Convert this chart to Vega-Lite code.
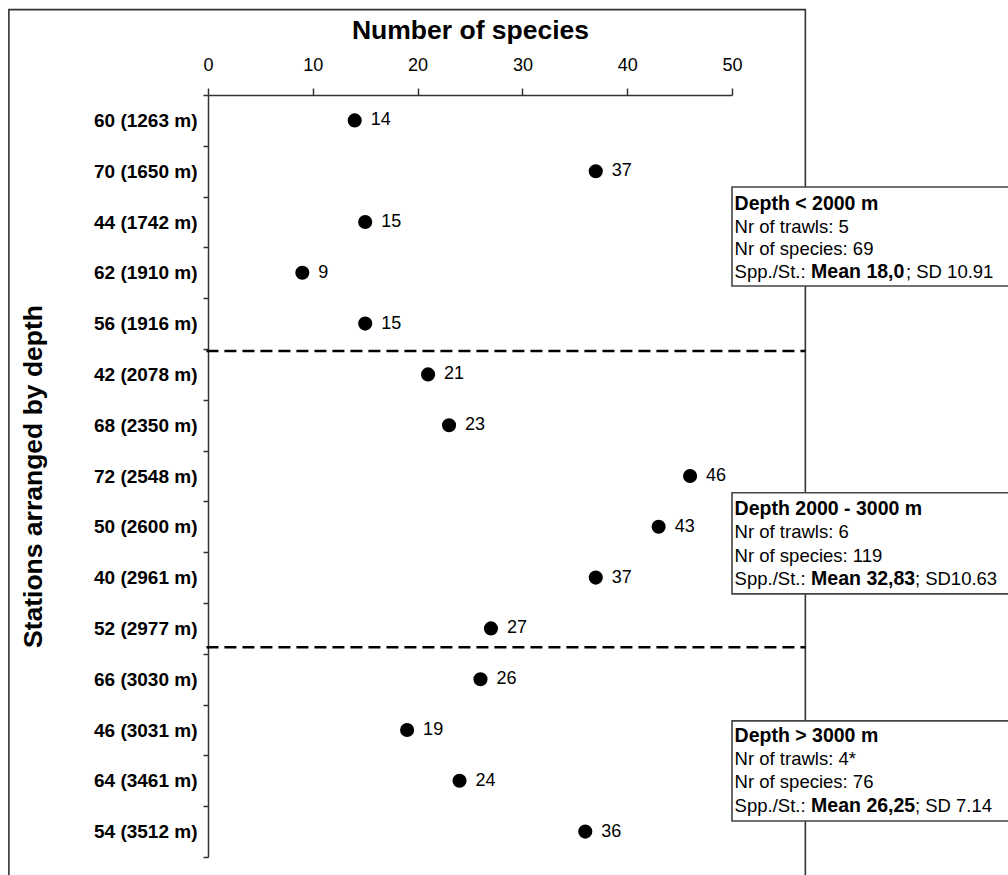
{
  "$schema": "https://vega.github.io/schema/vega-lite/v6.json",
  "autosize": "none",
  "width": 524,
  "height": 762,
  "padding": {"left": 208, "top": 95, "right": 276, "bottom": 18},
  "background": "white",
  "config": {
    "view": {"stroke": null},
    "font": "Liberation Sans",
    "text": {"font": "Liberation Sans", "color": "black"}
  },
  "datasets": {
    "stations": [
      {"station": "60 (1263 m)", "species": 14},
      {"station": "70 (1650 m)", "species": 37},
      {"station": "44 (1742 m)", "species": 15},
      {"station": "62 (1910 m)", "species": 9},
      {"station": "56 (1916 m)", "species": 15},
      {"station": "42 (2078 m)", "species": 21},
      {"station": "68 (2350 m)", "species": 23},
      {"station": "72 (2548 m)", "species": 46},
      {"station": "50 (2600 m)", "species": 43},
      {"station": "40 (2961 m)", "species": 37},
      {"station": "52 (2977 m)", "species": 27},
      {"station": "66 (3030 m)", "species": 26},
      {"station": "46 (3031 m)", "species": 19},
      {"station": "64 (3461 m)", "species": 24},
      {"station": "54 (3512 m)", "species": 36}
    ],
    "dividers": [
      {"row": 5.04},
      {"row": 10.87}
    ],
    "boxes": [
      {"top": 1.81, "bottom": 3.76},
      {"top": 7.83, "bottom": 9.82},
      {"top": 12.32, "bottom": 14.29}
    ],
    "boxtext": [
      {"text": "Depth < 2000 m", "x": 50.25, "row": 2.26, "bold": true},
      {"text": "Nr of trawls: 5", "x": 50.25, "row": 2.72, "bold": false},
      {"text": "Nr of species: 69", "x": 50.25, "row": 3.15, "bold": false},
      {"text": "Spp./St.:", "x": 50.25, "row": 3.6, "bold": false},
      {"text": "Mean 18,0", "x": 57.55, "row": 3.6, "bold": true},
      {"text": "; SD 10.91", "x": 66.6, "row": 3.6, "bold": false},
      {"text": "Depth 2000 - 3000 m", "x": 50.25, "row": 8.27, "bold": true},
      {"text": "Nr of trawls: 6", "x": 50.25, "row": 8.72, "bold": false},
      {"text": "Nr of species: 119", "x": 50.25, "row": 9.19, "bold": false},
      {"text": "Spp./St.:", "x": 50.25, "row": 9.65, "bold": false},
      {"text": "Mean 32,83", "x": 57.55, "row": 9.65, "bold": true},
      {"text": "; SD10.63", "x": 67.45, "row": 9.65, "bold": false},
      {"text": "Depth > 3000 m", "x": 50.25, "row": 12.74, "bold": true},
      {"text": "Nr of trawls: 4*", "x": 50.25, "row": 13.19, "bold": false},
      {"text": "Nr of species: 76", "x": 50.25, "row": 13.64, "bold": false},
      {"text": "Spp./St.:", "x": 50.25, "row": 14.11, "bold": false},
      {"text": "Mean 26,25", "x": 57.55, "row": 14.11, "bold": true},
      {"text": "; SD 7.14", "x": 67.45, "row": 14.11, "bold": false}
    ]
  },
  "layer": [
    {
      "data": {"name": "stations"},
      "encoding": {
        "x": {
          "field": "species",
          "type": "quantitative",
          "scale": {"domain": [0, 50], "nice": false, "zero": false},
          "axis": {
            "orient": "top",
            "title": "Number of species",
            "titleFontSize": 26.5,
            "titleFontWeight": "bold",
            "titleColor": "black",
            "titlePadding": 12,
            "values": [0, 10, 20, 30, 40, 50],
            "labelFontSize": 18,
            "labelColor": "black",
            "labelPadding": 14,
            "labelFlush": false,
            "tickSize": 7,
            "tickWidth": 1.5,
            "tickColor": "#333333",
            "domainColor": "#333333",
            "domainWidth": 1.5,
            "grid": false
          }
        },
        "y": {
          "field": "station",
          "type": "nominal",
          "sort": null,
          "scale": {"type": "band", "paddingInner": 0, "paddingOuter": 0},
          "axis": {
            "title": "Stations arranged by depth",
            "titleFontSize": 26.5,
            "titleFontWeight": "bold",
            "titleColor": "black",
            "titlePadding": 46,
            "labelFontSize": 19,
            "labelFontWeight": "bold",
            "labelColor": "black",
            "labelPadding": 6,
            "tickBand": "extent",
            "tickSize": 5,
            "tickWidth": 1.5,
            "tickColor": "#333333",
            "domainColor": "#333333",
            "domainWidth": 1.5,
            "grid": false
          }
        }
      },
      "layer": [
        {
          "mark": {"type": "circle", "size": 200, "color": "black", "opacity": 1}
        },
        {
          "mark": {"type": "text", "align": "left", "baseline": "middle", "dx": 16, "fontSize": 18, "color": "black"},
          "encoding": {
            "text": {"field": "species", "type": "quantitative"}
          }
        }
      ]
    },
    {
      "layer": [
        {
          "data": {"values": [{}]},
          "mark": {"type": "rect", "fill": "transparent", "stroke": "#333333", "strokeWidth": 1.6, "clip": false},
          "encoding": {
            "x": {"datum": -19, "type": "quantitative"},
            "x2": {"datum": 57},
            "y": {"datum": -1.68, "type": "quantitative", "scale": {"domain": [0, 15], "reverse": true, "nice": false, "zero": false}, "axis": null},
            "y2": {"datum": 16.5}
          }
        },
        {
          "data": {"name": "dividers"},
          "mark": {"type": "rule", "color": "black", "strokeWidth": 2.5, "strokeDash": [12, 6], "clip": false},
          "encoding": {
            "x": {"datum": -0.15, "type": "quantitative"},
            "x2": {"datum": 57},
            "y": {"field": "row", "type": "quantitative", "axis": null}
          }
        },
        {
          "data": {"name": "boxes"},
          "mark": {"type": "rect", "fill": "white", "stroke": "#444444", "strokeWidth": 1.6, "clip": false},
          "encoding": {
            "x": {"datum": 50, "type": "quantitative"},
            "x2": {"datum": 80},
            "y": {"field": "top", "type": "quantitative", "axis": null},
            "y2": {"field": "bottom"}
          }
        },
        {
          "data": {"name": "boxtext"},
          "transform": [{"filter": "datum.bold"}],
          "mark": {"type": "text", "align": "left", "baseline": "alphabetic", "fontSize": 19.5, "fontWeight": "bold", "color": "black", "clip": false},
          "encoding": {
            "x": {"field": "x", "type": "quantitative"},
            "y": {"field": "row", "type": "quantitative", "axis": null},
            "text": {"field": "text"}
          }
        },
        {
          "data": {"name": "boxtext"},
          "transform": [{"filter": "!datum.bold"}],
          "mark": {"type": "text", "align": "left", "baseline": "alphabetic", "fontSize": 18.5, "fontWeight": "normal", "color": "black", "clip": false},
          "encoding": {
            "x": {"field": "x", "type": "quantitative"},
            "y": {"field": "row", "type": "quantitative", "axis": null},
            "text": {"field": "text"}
          }
        }
      ]
    }
  ],
  "resolve": {"scale": {"y": "independent"}}
}
